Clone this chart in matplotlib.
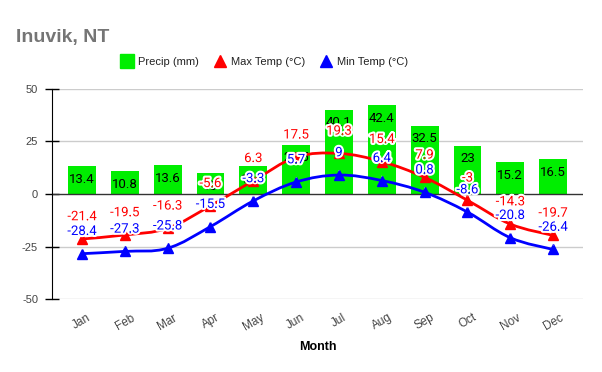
import numpy as np
import matplotlib
matplotlib.use("Agg")
import matplotlib.pyplot as plt
import matplotlib.patheffects as pe
from matplotlib.path import Path
from matplotlib.patches import PathPatch
from matplotlib.lines import Line2D

MONTHS = ["Jan", "Feb", "Mar", "Apr", "May", "Jun", "Jul", "Aug", "Sep", "Oct", "Nov", "Dec"]
PRECIP = [13.4, 10.8, 13.6, 10.0, 13.3, 23.5, 40.1, 42.4, 32.5, 23, 15.2, 16.5]
MAX_TEMP = [-21.4, -19.5, -16.3, -5.6, 6.3, 17.5, 19.3, 15.4, 7.9, -3, -14.3, -19.7]
MIN_TEMP = [-28.4, -27.3, -25.8, -15.5, -3.3, 5.7, 9, 6.4, 0.8, -8.6, -20.8, -26.4]
Y_TICKS = [-50, -25, 0, 25, 50]

GREEN, RED, BLUE = "#00ee00", "#ff0000", "#0000ff"
SANS = ["Liberation Sans", "DejaVu Sans"]
LABEL_FONT = ["Roboto", "DejaVu Sans"]


def fmt(v):
    return f"{v:g}"


def smooth_line(ax, xs, ys, color, k=0.18):
    # bezier through the points (catmull-rom style control points)
    n = len(xs)
    verts, codes = [(xs[0], ys[0])], [Path.MOVETO]
    for i in range(n - 1):
        a, b = max(i - 1, 0), min(i + 2, n - 1)
        c1 = (xs[i] + (xs[i + 1] - xs[a]) * k, ys[i] + (ys[i + 1] - ys[a]) * k)
        c2 = (xs[i + 1] - (xs[b] - xs[i]) * k, ys[i + 1] - (ys[b] - ys[i]) * k)
        verts += [c1, c2, (xs[i + 1], ys[i + 1])]
        codes += [Path.CURVE4] * 3
    ax.add_patch(PathPatch(Path(verts, codes), fill=False, edgecolor=color, lw=2, zorder=3))


fig = plt.figure(figsize=(6.02, 3.72), dpi=100)
ax = fig.add_axes([0.0864, 0.196, 0.8822, 0.565])
x = np.arange(len(MONTHS))

ax.bar(x, PRECIP, width=0.65, color=GREEN, zorder=2)
for xi, v in zip(x, PRECIP):
    ax.annotate(fmt(v), (xi, v), xytext=(0, -9.5), textcoords="offset points",
                ha="center", va="center", fontsize=9.5, family=LABEL_FONT, color="black", zorder=4)

halo = [pe.withStroke(linewidth=3, foreground="white")]
for ys, col in [(MAX_TEMP, RED), (MIN_TEMP, BLUE)]:
    smooth_line(ax, x, ys, col)
    ax.plot(x, ys, ls="none", marker="^", ms=7, color=col, zorder=4)
    for xi, v in zip(x, ys):
        ax.annotate(fmt(v), (xi, v), xytext=(0, 16), textcoords="offset points",
                    ha="center", va="center", fontsize=9.5, family=LABEL_FONT, color=col,
                    path_effects=halo, zorder=5,
                    arrowprops=dict(arrowstyle="-", color="#dddddd", lw=0.5, shrinkA=6, shrinkB=3))

ax.set_xlim(-0.7, 11.7)
ax.set_ylim(-50, 50)
ax.set_yticks(Y_TICKS)
ax.set_yticklabels([str(t) for t in Y_TICKS], family=SANS, fontsize=8, color="#444444")
ax.set_xticks(x)
ax.set_xticklabels(MONTHS, rotation=30, family=SANS, fontsize=8.5, color="#444444")
ax.tick_params(axis="x", length=0, pad=9)
ax.tick_params(axis="y", direction="inout", length=10, width=1, color="black", pad=5)
for t in Y_TICKS:
    ax.axhline(t, color="#333333" if t == 0 else "#cccccc", lw=1, zorder=1 if t else 2.5)
for s in ["top", "right", "bottom"]:
    ax.spines[s].set_visible(False)
ax.spines["left"].set_color("black")
ax.spines["left"].set_zorder(6)
ax.set_xlabel("Month", family=SANS, fontsize=9, fontweight="heavy", color="black", labelpad=6)

fig.text(0.027, 0.9, "Inuvik, NT", family=SANS, fontsize=14, fontweight="bold",
         color="#757575", va="center", ha="left")

handles = [
    Line2D([], [], ls="none", marker="s", ms=10, color=GREEN),
    Line2D([], [], ls="none", marker="^", ms=8, color=RED),
    Line2D([], [], ls="none", marker="^", ms=8, color=BLUE),
]
leg = fig.legend(handles, ["Precip (mm)", "Max Temp (°C)", "Min Temp (°C)"], ncol=3,
                 loc="center", bbox_to_anchor=(0.44, 0.833), frameon=False,
                 prop={"family": SANS, "size": 8}, handlelength=1, handletextpad=0.5,
                 columnspacing=1.4)
for t in leg.get_texts():
    t.set_color("#222222")

fig.savefig("out.png", dpi=100)
